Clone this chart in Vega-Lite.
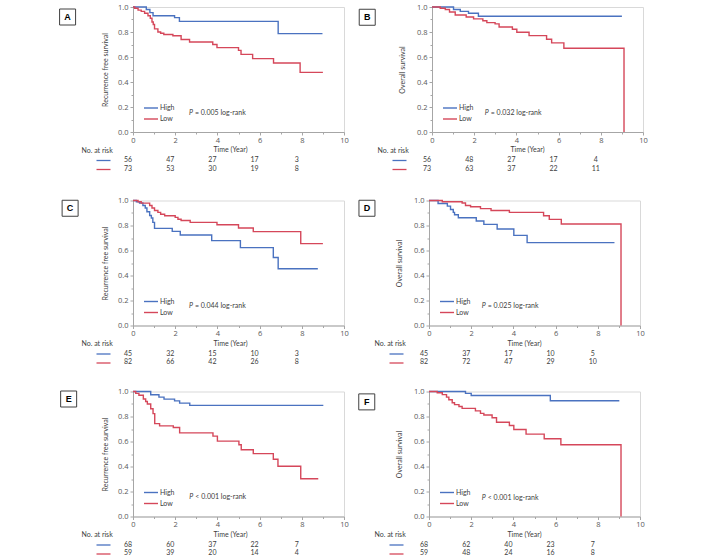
{
"$schema": "https://vega.github.io/schema/vega-lite/v6.json",
"padding": {"left": 57, "top": 2, "right": 5, "bottom": 5},
"background": "white",
"datasets": {
"km": [
{"p":"A","g":"High","t":0,"s":1},{"p":"A","g":"High","t":0.63,"s":0.98},{"p":"A","g":"High","t":0.8,"s":0.955},{"p":"A","g":"High","t":0.95,"s":0.93},{"p":"A","g":"High","t":1.97,"s":0.915},{"p":"A","g":"High","t":2.2,"s":0.885},{"p":"A","g":"High","t":6.88,"s":0.787},{"p":"A","g":"High","t":8.98,"s":0.787},
{"p":"A","g":"Low","t":0,"s":1},{"p":"A","g":"Low","t":0.08,"s":0.99},{"p":"A","g":"Low","t":0.24,"s":0.975},{"p":"A","g":"Low","t":0.39,"s":0.965},{"p":"A","g":"Low","t":0.55,"s":0.95},{"p":"A","g":"Low","t":0.71,"s":0.93},{"p":"A","g":"Low","t":0.82,"s":0.91},{"p":"A","g":"Low","t":0.9,"s":0.88},{"p":"A","g":"Low","t":0.96,"s":0.86},{"p":"A","g":"Low","t":1.02,"s":0.825},{"p":"A","g":"Low","t":1.18,"s":0.8},{"p":"A","g":"Low","t":1.31,"s":0.79},{"p":"A","g":"Low","t":1.46,"s":0.78},{"p":"A","g":"Low","t":1.89,"s":0.77},{"p":"A","g":"Low","t":2.28,"s":0.74},{"p":"A","g":"Low","t":2.68,"s":0.72},{"p":"A","g":"Low","t":3.78,"s":0.7},{"p":"A","g":"Low","t":3.98,"s":0.675},{"p":"A","g":"Low","t":5.0,"s":0.653},{"p":"A","g":"Low","t":5.12,"s":0.621},{"p":"A","g":"Low","t":5.67,"s":0.587},{"p":"A","g":"Low","t":6.66,"s":0.552},{"p":"A","g":"Low","t":7.92,"s":0.477},{"p":"A","g":"Low","t":9.0,"s":0.477},
{"p":"B","g":"High","t":0,"s":1},{"p":"B","g":"High","t":1.02,"s":0.98},{"p":"B","g":"High","t":1.34,"s":0.965},{"p":"B","g":"High","t":1.73,"s":0.95},{"p":"B","g":"High","t":2.2,"s":0.926},{"p":"B","g":"High","t":9.0,"s":0.926},
{"p":"B","g":"Low","t":0,"s":1},{"p":"B","g":"Low","t":0.39,"s":0.99},{"p":"B","g":"Low","t":0.63,"s":0.98},{"p":"B","g":"Low","t":0.83,"s":0.96},{"p":"B","g":"Low","t":1.1,"s":0.936},{"p":"B","g":"Low","t":1.62,"s":0.92},{"p":"B","g":"Low","t":1.97,"s":0.905},{"p":"B","g":"Low","t":2.41,"s":0.89},{"p":"B","g":"Low","t":2.6,"s":0.875},{"p":"B","g":"Low","t":2.99,"s":0.865},{"p":"B","g":"Low","t":3.18,"s":0.84},{"p":"B","g":"Low","t":3.81,"s":0.822},{"p":"B","g":"Low","t":4.02,"s":0.798},{"p":"B","g":"Low","t":4.6,"s":0.771},{"p":"B","g":"Low","t":5.43,"s":0.742},{"p":"B","g":"Low","t":5.67,"s":0.713},{"p":"B","g":"Low","t":6.25,"s":0.67},{"p":"B","g":"Low","t":9.1,"s":0},
{"p":"C","g":"High","t":0,"s":1},{"p":"C","g":"High","t":0.16,"s":0.99},{"p":"C","g":"High","t":0.31,"s":0.98},{"p":"C","g":"High","t":0.47,"s":0.96},{"p":"C","g":"High","t":0.58,"s":0.94},{"p":"C","g":"High","t":0.66,"s":0.91},{"p":"C","g":"High","t":0.79,"s":0.88},{"p":"C","g":"High","t":0.87,"s":0.86},{"p":"C","g":"High","t":0.94,"s":0.825},{"p":"C","g":"High","t":1.02,"s":0.777},{"p":"C","g":"High","t":1.86,"s":0.753},{"p":"C","g":"High","t":2.24,"s":0.724},{"p":"C","g":"High","t":3.73,"s":0.679},{"p":"C","g":"High","t":5.09,"s":0.623},{"p":"C","g":"High","t":6.65,"s":0.544},{"p":"C","g":"High","t":6.88,"s":0.454},{"p":"C","g":"High","t":8.76,"s":0.454},
{"p":"C","g":"Low","t":0,"s":1},{"p":"C","g":"Low","t":0.24,"s":0.99},{"p":"C","g":"Low","t":0.39,"s":0.979},{"p":"C","g":"Low","t":0.79,"s":0.96},{"p":"C","g":"Low","t":0.9,"s":0.94},{"p":"C","g":"Low","t":1.02,"s":0.92},{"p":"C","g":"Low","t":1.18,"s":0.905},{"p":"C","g":"Low","t":1.31,"s":0.89},{"p":"C","g":"Low","t":1.5,"s":0.878},{"p":"C","g":"Low","t":2.0,"s":0.865},{"p":"C","g":"Low","t":2.13,"s":0.85},{"p":"C","g":"Low","t":2.28,"s":0.84},{"p":"C","g":"Low","t":2.71,"s":0.825},{"p":"C","g":"Low","t":3.98,"s":0.806},{"p":"C","g":"Low","t":5.0,"s":0.78},{"p":"C","g":"Low","t":5.7,"s":0.751},{"p":"C","g":"Low","t":7.95,"s":0.655},{"p":"C","g":"Low","t":9.0,"s":0.655},
{"p":"D","g":"High","t":0,"s":1},{"p":"D","g":"High","t":0.43,"s":0.976},{"p":"D","g":"High","t":0.87,"s":0.955},{"p":"D","g":"High","t":1.02,"s":0.928},{"p":"D","g":"High","t":1.15,"s":0.905},{"p":"D","g":"High","t":1.21,"s":0.886},{"p":"D","g":"High","t":1.39,"s":0.862},{"p":"D","g":"High","t":2.24,"s":0.836},{"p":"D","g":"High","t":2.6,"s":0.809},{"p":"D","g":"High","t":3.23,"s":0.772},{"p":"D","g":"High","t":4.02,"s":0.721},{"p":"D","g":"High","t":4.65,"s":0.663},{"p":"D","g":"High","t":8.79,"s":0.663},
{"p":"D","g":"Low","t":0,"s":1},{"p":"D","g":"Low","t":0.63,"s":0.99},{"p":"D","g":"Low","t":1.57,"s":0.98},{"p":"D","g":"Low","t":1.73,"s":0.96},{"p":"D","g":"Low","t":1.97,"s":0.95},{"p":"D","g":"Low","t":2.44,"s":0.935},{"p":"D","g":"Low","t":2.94,"s":0.92},{"p":"D","g":"Low","t":3.81,"s":0.905},{"p":"D","g":"Low","t":5.43,"s":0.878},{"p":"D","g":"Low","t":5.7,"s":0.849},{"p":"D","g":"Low","t":6.27,"s":0.812},{"p":"D","g":"Low","t":9.1,"s":0},
{"p":"E","g":"High","t":0,"s":1},{"p":"E","g":"High","t":0.84,"s":0.974},{"p":"E","g":"High","t":1.23,"s":0.955},{"p":"E","g":"High","t":1.47,"s":0.939},{"p":"E","g":"High","t":1.97,"s":0.925},{"p":"E","g":"High","t":2.21,"s":0.907},{"p":"E","g":"High","t":2.69,"s":0.889},{"p":"E","g":"High","t":9.02,"s":0.889},
{"p":"E","g":"Low","t":0,"s":1},{"p":"E","g":"Low","t":0.13,"s":0.985},{"p":"E","g":"Low","t":0.28,"s":0.97},{"p":"E","g":"Low","t":0.49,"s":0.94},{"p":"E","g":"Low","t":0.6,"s":0.92},{"p":"E","g":"Low","t":0.68,"s":0.9},{"p":"E","g":"Low","t":0.84,"s":0.862},{"p":"E","g":"Low","t":0.95,"s":0.823},{"p":"E","g":"Low","t":1.03,"s":0.743},{"p":"E","g":"Low","t":1.26,"s":0.725},{"p":"E","g":"Low","t":1.91,"s":0.712},{"p":"E","g":"Low","t":2.21,"s":0.669},{"p":"E","g":"Low","t":3.79,"s":0.643},{"p":"E","g":"Low","t":4.0,"s":0.603},{"p":"E","g":"Low","t":5.02,"s":0.574},{"p":"E","g":"Low","t":5.13,"s":0.534},{"p":"E","g":"Low","t":5.7,"s":0.503},{"p":"E","g":"Low","t":6.65,"s":0.458},{"p":"E","g":"Low","t":6.87,"s":0.402},{"p":"E","g":"Low","t":7.95,"s":0.302},{"p":"E","g":"Low","t":8.78,"s":0.302},
{"p":"F","g":"High","t":0,"s":1},{"p":"F","g":"High","t":1.73,"s":0.985},{"p":"F","g":"High","t":2.0,"s":0.968},{"p":"F","g":"High","t":5.75,"s":0.926},{"p":"F","g":"High","t":9.02,"s":0.926},
{"p":"F","g":"Low","t":0,"s":1},{"p":"F","g":"Low","t":0.39,"s":0.99},{"p":"F","g":"Low","t":0.63,"s":0.975},{"p":"F","g":"Low","t":0.83,"s":0.955},{"p":"F","g":"Low","t":0.94,"s":0.934},{"p":"F","g":"Low","t":1.1,"s":0.91},{"p":"F","g":"Low","t":1.21,"s":0.895},{"p":"F","g":"Low","t":1.42,"s":0.88},{"p":"F","g":"Low","t":1.57,"s":0.865},{"p":"F","g":"Low","t":2.2,"s":0.845},{"p":"F","g":"Low","t":2.44,"s":0.825},{"p":"F","g":"Low","t":2.6,"s":0.812},{"p":"F","g":"Low","t":2.99,"s":0.79},{"p":"F","g":"Low","t":3.2,"s":0.754},{"p":"F","g":"Low","t":3.81,"s":0.728},{"p":"F","g":"Low","t":4.02,"s":0.696},{"p":"F","g":"Low","t":4.6,"s":0.659},{"p":"F","g":"Low","t":5.46,"s":0.622},{"p":"F","g":"Low","t":6.25,"s":0.574},{"p":"F","g":"Low","t":9.1,"s":0}
],
"risk": [
{"p":"A","g":"High","t":0,"n":56},{"p":"A","g":"High","t":2,"n":47},{"p":"A","g":"High","t":4,"n":27},{"p":"A","g":"High","t":6,"n":17},{"p":"A","g":"High","t":8,"n":3},
{"p":"A","g":"Low","t":0,"n":73},{"p":"A","g":"Low","t":2,"n":53},{"p":"A","g":"Low","t":4,"n":30},{"p":"A","g":"Low","t":6,"n":19},{"p":"A","g":"Low","t":8,"n":8},
{"p":"B","g":"High","t":0,"n":56},{"p":"B","g":"High","t":2,"n":48},{"p":"B","g":"High","t":4,"n":27},{"p":"B","g":"High","t":6,"n":17},{"p":"B","g":"High","t":8,"n":4},
{"p":"B","g":"Low","t":0,"n":73},{"p":"B","g":"Low","t":2,"n":63},{"p":"B","g":"Low","t":4,"n":37},{"p":"B","g":"Low","t":6,"n":22},{"p":"B","g":"Low","t":8,"n":11},
{"p":"C","g":"High","t":0,"n":45},{"p":"C","g":"High","t":2,"n":32},{"p":"C","g":"High","t":4,"n":15},{"p":"C","g":"High","t":6,"n":10},{"p":"C","g":"High","t":8,"n":3},
{"p":"C","g":"Low","t":0,"n":82},{"p":"C","g":"Low","t":2,"n":66},{"p":"C","g":"Low","t":4,"n":42},{"p":"C","g":"Low","t":6,"n":26},{"p":"C","g":"Low","t":8,"n":8},
{"p":"D","g":"High","t":0,"n":45},{"p":"D","g":"High","t":2,"n":37},{"p":"D","g":"High","t":4,"n":17},{"p":"D","g":"High","t":6,"n":10},{"p":"D","g":"High","t":8,"n":5},
{"p":"D","g":"Low","t":0,"n":82},{"p":"D","g":"Low","t":2,"n":72},{"p":"D","g":"Low","t":4,"n":47},{"p":"D","g":"Low","t":6,"n":29},{"p":"D","g":"Low","t":8,"n":10},
{"p":"E","g":"High","t":0,"n":68},{"p":"E","g":"High","t":2,"n":60},{"p":"E","g":"High","t":4,"n":37},{"p":"E","g":"High","t":6,"n":22},{"p":"E","g":"High","t":8,"n":7},
{"p":"E","g":"Low","t":0,"n":59},{"p":"E","g":"Low","t":2,"n":39},{"p":"E","g":"Low","t":4,"n":20},{"p":"E","g":"Low","t":6,"n":14},{"p":"E","g":"Low","t":8,"n":4},
{"p":"F","g":"High","t":0,"n":68},{"p":"F","g":"High","t":2,"n":62},{"p":"F","g":"High","t":4,"n":40},{"p":"F","g":"High","t":6,"n":23},{"p":"F","g":"High","t":8,"n":7},
{"p":"F","g":"Low","t":0,"n":59},{"p":"F","g":"Low","t":2,"n":48},{"p":"F","g":"Low","t":4,"n":24},{"p":"F","g":"Low","t":6,"n":16},{"p":"F","g":"Low","t":8,"n":8}
],
"pv": [
{"p":"A","txt":"= 0.005 log-rank"},{"p":"B","txt":"= 0.032 log-rank"},{"p":"C","txt":"= 0.044 log-rank"},{"p":"D","txt":"= 0.025 log-rank"},{"p":"E","txt":"< 0.001 log-rank"},{"p":"F","txt":"< 0.001 log-rank"}
]
},
"config": {
"font": "Lato",
"view": {"stroke": "#d9d9d9"},
"axis": {"labelFont": "Open Sans", "labelFontSize": 7.5, "labelColor": "#595959", "domainColor": "#a6a6a6", "tickColor": "#a6a6a6", "titleFont": "Lato", "titleFontSize": 7, "titleFontWeight": "normal", "titleColor": "#404040", "grid": false, "labelOverlap": false},
"legend": {"title": null, "orient": "bottom-left", "offset": 10, "padding": 0, "symbolType": "stroke", "symbolSize": 196, "symbolStrokeWidth": 1.4, "labelFont": "Lato", "labelFontSize": 7, "labelColor": "#404040", "labelOffset": 1, "rowPadding": -3},
"text": {"font": "Lato", "fontSize": 7, "color": "#404040"}
},
"spacing": 22.5,
"resolve": {"scale": {"color": "independent"}, "legend": {"color": "independent"}},
"vconcat": [
{"hconcat": [
  {"vconcat": [
    {"width": 211, "height": 125, "layer": [
      {"data": {"name": "km"}, "transform": [{"filter": "datum.p === 'A'"}], "mark": {"type": "line", "interpolate": "step-after", "strokeWidth": 1.4},
       "encoding": {
        "x": {"field": "t", "type": "quantitative", "scale": {"domain": [0, 10], "nice": false}, "axis": {"values": [0,1,2,3,4,5,6,7,8,9,10], "tickCount": 11, "labelExpr": "datum.value % 2 === 0 ? datum.label : ''", "tickSize": {"condition": {"test": "datum.value % 2 === 0", "value": 3}, "value": 2}, "labelFlush": false, "labelOverlap": false, "labelPadding": 1, "title": "Time (Year)", "titleX": 97, "titlePadding": 2}},
        "y": {"field": "s", "type": "quantitative", "scale": {"domain": [0, 1], "nice": false}, "axis": {"values": [0,0.1,0.2,0.3,0.4,0.5,0.6,0.7,0.8,0.9,1], "tickCount": 11, "labelExpr": "round(datum.value*10) % 2 === 0 ? format(datum.value, '.1f') : ''", "tickSize": {"condition": {"test": "round(datum.value*10) % 2 === 0", "value": 3}, "value": 2}, "labelOverlap": false, "labelPadding": 2, "title": "Recurrence free survival", "titlePadding": 9}},
        "color": {"field": "g", "type": "nominal", "scale": {"domain": ["High", "Low"], "range": ["#4a72c0", "#d5475a"]}}
       }},
      {"data": {"name": "pv"}, "transform": [{"filter": "datum.p === 'A'"}], "mark": {"type": "text", "align": "left", "fontStyle": "italic"}, "encoding": {"x": {"datum": 2.65}, "y": {"datum": 0.155}, "text": {"value": "P"}}},
      {"data": {"name": "pv"}, "transform": [{"filter": "datum.p === 'A'"}], "mark": {"type": "text", "align": "left", "dx": 6}, "encoding": {"x": {"datum": 2.65}, "y": {"datum": 0.155}, "text": {"field": "txt", "type": "nominal"}}},
      {"data": {"name": "pv"}, "transform": [{"filter": "datum.p === 'A'"}], "mark": {"type": "point", "shape": "square", "size": 256, "filled": false, "color": "#404040", "strokeWidth": 1, "opacity": 1}, "encoding": {"x": {"datum": -3.1}, "y": {"datum": 0.92}}},
      {"data": {"name": "pv"}, "transform": [{"filter": "datum.p === 'A'"}], "mark": {"type": "text", "fontWeight": "bold", "fontSize": 9, "font": "Liberation Sans", "color": "#000000"}, "encoding": {"x": {"datum": -3.1}, "y": {"datum": 0.92}, "text": {"field": "p", "type": "nominal"}}}
    ]},
    {"width": 211, "height": 17, "view": {"stroke": null}, "data": {"name": "risk"}, "transform": [{"filter": "datum.p === 'A'"}], "mark": {"type": "text", "dx": -5},
     "encoding": {
      "x": {"field": "t", "type": "quantitative", "scale": {"domain": [0, 10], "nice": false}, "axis": null},
      "y": {"field": "g", "type": "nominal", "scale": {"domain": ["High", "Low"], "paddingInner": 0, "paddingOuter": 0}, "axis": {"labels": false, "domain": false, "tickSize": 14, "tickWidth": 1.3, "tickColor": {"condition": {"test": "datum.value === 'High'", "value": "#4a72c0"}, "value": "#d5475a"}, "offset": 23, "title": "No. at risk", "titleAngle": 0, "titleAlign": "left", "titleBaseline": "middle", "titleX": -29, "titleY": -6}},
      "text": {"field": "n", "type": "quantitative"}
     }}
  ], "spacing": 24, "bounds": "flush", "resolve": {"scale": {"color": "independent"}, "legend": {"color": "independent"}}},
  {"vconcat": [
    {"width": 211, "height": 125, "layer": [
      {"data": {"name": "km"}, "transform": [{"filter": "datum.p === 'B'"}], "mark": {"type": "line", "interpolate": "step-after", "strokeWidth": 1.4},
       "encoding": {
        "x": {"field": "t", "type": "quantitative", "scale": {"domain": [0, 10], "nice": false}, "axis": {"values": [0,1,2,3,4,5,6,7,8,9,10], "tickCount": 11, "labelExpr": "datum.value % 2 === 0 ? datum.label : ''", "tickSize": {"condition": {"test": "datum.value % 2 === 0", "value": 3}, "value": 2}, "labelFlush": false, "labelOverlap": false, "labelPadding": 1, "title": "Time (Year)", "titleX": 95, "titlePadding": 2}},
        "y": {"field": "s", "type": "quantitative", "scale": {"domain": [0, 1], "nice": false}, "axis": {"values": [0,0.1,0.2,0.3,0.4,0.5,0.6,0.7,0.8,0.9,1], "tickCount": 11, "labelExpr": "round(datum.value*10) % 2 === 0 ? format(datum.value, '.1f') : ''", "tickSize": {"condition": {"test": "round(datum.value*10) % 2 === 0", "value": 3}, "value": 2}, "labelOverlap": false, "labelPadding": 2, "title": "Overall survival", "titlePadding": 11}},
        "color": {"field": "g", "type": "nominal", "scale": {"domain": ["High", "Low"], "range": ["#4a72c0", "#d5475a"]}}
       }},
      {"data": {"name": "pv"}, "transform": [{"filter": "datum.p === 'B'"}], "mark": {"type": "text", "align": "left", "fontStyle": "italic"}, "encoding": {"x": {"datum": 2.5}, "y": {"datum": 0.153}, "text": {"value": "P"}}},
      {"data": {"name": "pv"}, "transform": [{"filter": "datum.p === 'B'"}], "mark": {"type": "text", "align": "left", "dx": 6}, "encoding": {"x": {"datum": 2.5}, "y": {"datum": 0.153}, "text": {"field": "txt", "type": "nominal"}}},
      {"data": {"name": "pv"}, "transform": [{"filter": "datum.p === 'B'"}], "mark": {"type": "point", "shape": "square", "size": 256, "filled": false, "color": "#404040", "strokeWidth": 1, "opacity": 1}, "encoding": {"x": {"datum": -3.07}, "y": {"datum": 0.918}}},
      {"data": {"name": "pv"}, "transform": [{"filter": "datum.p === 'B'"}], "mark": {"type": "text", "fontWeight": "bold", "fontSize": 9, "font": "Liberation Sans", "color": "#000000"}, "encoding": {"x": {"datum": -3.07}, "y": {"datum": 0.918}, "text": {"field": "p", "type": "nominal"}}}
    ]},
    {"width": 211, "height": 17, "view": {"stroke": null}, "data": {"name": "risk"}, "transform": [{"filter": "datum.p === 'B'"}], "mark": {"type": "text", "dx": -5},
     "encoding": {
      "x": {"field": "t", "type": "quantitative", "scale": {"domain": [0, 10], "nice": false}, "axis": null},
      "y": {"field": "g", "type": "nominal", "scale": {"domain": ["High", "Low"], "paddingInner": 0, "paddingOuter": 0}, "axis": {"labels": false, "domain": false, "tickSize": 14, "tickWidth": 1.3, "tickColor": {"condition": {"test": "datum.value === 'High'", "value": "#4a72c0"}, "value": "#d5475a"}, "offset": 26, "title": "No. at risk", "titleAngle": 0, "titleAlign": "left", "titleBaseline": "middle", "titleX": -29, "titleY": -6}},
      "text": {"field": "n", "type": "quantitative"}
     }}
  ], "spacing": 24, "bounds": "flush", "resolve": {"scale": {"color": "independent"}, "legend": {"color": "independent"}}}
], "spacing": 7, "resolve": {"scale": {"color": "independent"}, "legend": {"color": "independent"}}},
{"vconcat": [
{"hconcat": [
  {"vconcat": [
    {"width": 211, "height": 125, "layer": [
      {"data": {"name": "km"}, "transform": [{"filter": "datum.p === 'C'"}], "mark": {"type": "line", "interpolate": "step-after", "strokeWidth": 1.4},
       "encoding": {
        "x": {"field": "t", "type": "quantitative", "scale": {"domain": [0, 10], "nice": false}, "axis": {"values": [0,1,2,3,4,5,6,7,8,9,10], "tickCount": 11, "labelExpr": "datum.value % 2 === 0 ? datum.label : ''", "tickSize": {"condition": {"test": "datum.value % 2 === 0", "value": 3}, "value": 2}, "labelFlush": false, "labelOverlap": false, "labelPadding": 1, "title": "Time (Year)", "titleX": 97, "titlePadding": 2}},
        "y": {"field": "s", "type": "quantitative", "scale": {"domain": [0, 1], "nice": false}, "axis": {"values": [0,0.1,0.2,0.3,0.4,0.5,0.6,0.7,0.8,0.9,1], "tickCount": 11, "labelExpr": "round(datum.value*10) % 2 === 0 ? format(datum.value, '.1f') : ''", "tickSize": {"condition": {"test": "round(datum.value*10) % 2 === 0", "value": 3}, "value": 2}, "labelOverlap": false, "labelPadding": 2, "title": "Recurrence free survival", "titlePadding": 9}},
        "color": {"field": "g", "type": "nominal", "scale": {"domain": ["High", "Low"], "range": ["#4a72c0", "#d5475a"]}}
       }},
      {"data": {"name": "pv"}, "transform": [{"filter": "datum.p === 'C'"}], "mark": {"type": "text", "align": "left", "fontStyle": "italic"}, "encoding": {"x": {"datum": 2.65}, "y": {"datum": 0.155}, "text": {"value": "P"}}},
      {"data": {"name": "pv"}, "transform": [{"filter": "datum.p === 'C'"}], "mark": {"type": "text", "align": "left", "dx": 6}, "encoding": {"x": {"datum": 2.65}, "y": {"datum": 0.155}, "text": {"field": "txt", "type": "nominal"}}},
      {"data": {"name": "pv"}, "transform": [{"filter": "datum.p === 'C'"}], "mark": {"type": "point", "shape": "square", "size": 256, "filled": false, "color": "#404040", "strokeWidth": 1, "opacity": 1}, "encoding": {"x": {"datum": -2.98}, "y": {"datum": 0.938}}},
      {"data": {"name": "pv"}, "transform": [{"filter": "datum.p === 'C'"}], "mark": {"type": "text", "fontWeight": "bold", "fontSize": 9, "font": "Liberation Sans", "color": "#000000"}, "encoding": {"x": {"datum": -2.98}, "y": {"datum": 0.938}, "text": {"field": "p", "type": "nominal"}}}
    ]},
    {"width": 211, "height": 17, "view": {"stroke": null}, "data": {"name": "risk"}, "transform": [{"filter": "datum.p === 'C'"}], "mark": {"type": "text", "dx": -5},
     "encoding": {
      "x": {"field": "t", "type": "quantitative", "scale": {"domain": [0, 10], "nice": false}, "axis": null},
      "y": {"field": "g", "type": "nominal", "scale": {"domain": ["High", "Low"], "paddingInner": 0, "paddingOuter": 0}, "axis": {"labels": false, "domain": false, "tickSize": 14, "tickWidth": 1.3, "tickColor": {"condition": {"test": "datum.value === 'High'", "value": "#4a72c0"}, "value": "#d5475a"}, "offset": 23, "title": "No. at risk", "titleAngle": 0, "titleAlign": "left", "titleBaseline": "middle", "titleX": -29, "titleY": -6}},
      "text": {"field": "n", "type": "quantitative"}
     }}
  ], "spacing": 24, "bounds": "flush", "resolve": {"scale": {"color": "independent"}, "legend": {"color": "independent"}}},
  {"vconcat": [
    {"width": 211, "height": 125, "layer": [
      {"data": {"name": "km"}, "transform": [{"filter": "datum.p === 'D'"}], "mark": {"type": "line", "interpolate": "step-after", "strokeWidth": 1.4},
       "encoding": {
        "x": {"field": "t", "type": "quantitative", "scale": {"domain": [0, 10], "nice": false}, "axis": {"values": [0,1,2,3,4,5,6,7,8,9,10], "tickCount": 11, "labelExpr": "datum.value % 2 === 0 ? datum.label : ''", "tickSize": {"condition": {"test": "datum.value % 2 === 0", "value": 3}, "value": 2}, "labelFlush": false, "labelOverlap": false, "labelPadding": 1, "title": "Time (Year)", "titleX": 95, "titlePadding": 2}},
        "y": {"field": "s", "type": "quantitative", "scale": {"domain": [0, 1], "nice": false}, "axis": {"values": [0,0.1,0.2,0.3,0.4,0.5,0.6,0.7,0.8,0.9,1], "tickCount": 11, "labelExpr": "round(datum.value*10) % 2 === 0 ? format(datum.value, '.1f') : ''", "tickSize": {"condition": {"test": "round(datum.value*10) % 2 === 0", "value": 3}, "value": 2}, "labelOverlap": false, "labelPadding": 2, "title": "Overall survival", "titlePadding": 11}},
        "color": {"field": "g", "type": "nominal", "scale": {"domain": ["High", "Low"], "range": ["#4a72c0", "#d5475a"]}}
       }},
      {"data": {"name": "pv"}, "transform": [{"filter": "datum.p === 'D'"}], "mark": {"type": "text", "align": "left", "fontStyle": "italic"}, "encoding": {"x": {"datum": 2.5}, "y": {"datum": 0.153}, "text": {"value": "P"}}},
      {"data": {"name": "pv"}, "transform": [{"filter": "datum.p === 'D'"}], "mark": {"type": "text", "align": "left", "dx": 6}, "encoding": {"x": {"datum": 2.5}, "y": {"datum": 0.153}, "text": {"field": "txt", "type": "nominal"}}},
      {"data": {"name": "pv"}, "transform": [{"filter": "datum.p === 'D'"}], "mark": {"type": "point", "shape": "square", "size": 256, "filled": false, "color": "#404040", "strokeWidth": 1, "opacity": 1}, "encoding": {"x": {"datum": -2.94}, "y": {"datum": 0.938}}},
      {"data": {"name": "pv"}, "transform": [{"filter": "datum.p === 'D'"}], "mark": {"type": "text", "fontWeight": "bold", "fontSize": 9, "font": "Liberation Sans", "color": "#000000"}, "encoding": {"x": {"datum": -2.94}, "y": {"datum": 0.938}, "text": {"field": "p", "type": "nominal"}}}
    ]},
    {"width": 211, "height": 17, "view": {"stroke": null}, "data": {"name": "risk"}, "transform": [{"filter": "datum.p === 'D'"}], "mark": {"type": "text", "dx": -5},
     "encoding": {
      "x": {"field": "t", "type": "quantitative", "scale": {"domain": [0, 10], "nice": false}, "axis": null},
      "y": {"field": "g", "type": "nominal", "scale": {"domain": ["High", "Low"], "paddingInner": 0, "paddingOuter": 0}, "axis": {"labels": false, "domain": false, "tickSize": 14, "tickWidth": 1.3, "tickColor": {"condition": {"test": "datum.value === 'High'", "value": "#4a72c0"}, "value": "#d5475a"}, "offset": 26, "title": "No. at risk", "titleAngle": 0, "titleAlign": "left", "titleBaseline": "middle", "titleX": -29, "titleY": -6}},
      "text": {"field": "n", "type": "quantitative"}
     }}
  ], "spacing": 24, "bounds": "flush", "resolve": {"scale": {"color": "independent"}, "legend": {"color": "independent"}}}
], "spacing": 7, "resolve": {"scale": {"color": "independent"}, "legend": {"color": "independent"}}},
{"hconcat": [
  {"vconcat": [
    {"width": 211, "height": 125, "layer": [
      {"data": {"name": "km"}, "transform": [{"filter": "datum.p === 'E'"}], "mark": {"type": "line", "interpolate": "step-after", "strokeWidth": 1.4},
       "encoding": {
        "x": {"field": "t", "type": "quantitative", "scale": {"domain": [0, 10], "nice": false}, "axis": {"values": [0,1,2,3,4,5,6,7,8,9,10], "tickCount": 11, "labelExpr": "datum.value % 2 === 0 ? datum.label : ''", "tickSize": {"condition": {"test": "datum.value % 2 === 0", "value": 3}, "value": 2}, "labelFlush": false, "labelOverlap": false, "labelPadding": 1, "title": "Time (Year)", "titleX": 97, "titlePadding": 2}},
        "y": {"field": "s", "type": "quantitative", "scale": {"domain": [0, 1], "nice": false}, "axis": {"values": [0,0.1,0.2,0.3,0.4,0.5,0.6,0.7,0.8,0.9,1], "tickCount": 11, "labelExpr": "round(datum.value*10) % 2 === 0 ? format(datum.value, '.1f') : ''", "tickSize": {"condition": {"test": "round(datum.value*10) % 2 === 0", "value": 3}, "value": 2}, "labelOverlap": false, "labelPadding": 2, "title": "Recurrence free survival", "titlePadding": 9}},
        "color": {"field": "g", "type": "nominal", "scale": {"domain": ["High", "Low"], "range": ["#4a72c0", "#d5475a"]}}
       }},
      {"data": {"name": "pv"}, "transform": [{"filter": "datum.p === 'E'"}], "mark": {"type": "text", "align": "left", "fontStyle": "italic"}, "encoding": {"x": {"datum": 2.67}, "y": {"datum": 0.16}, "text": {"value": "P"}}},
      {"data": {"name": "pv"}, "transform": [{"filter": "datum.p === 'E'"}], "mark": {"type": "text", "align": "left", "dx": 6}, "encoding": {"x": {"datum": 2.67}, "y": {"datum": 0.16}, "text": {"field": "txt", "type": "nominal"}}},
      {"data": {"name": "pv"}, "transform": [{"filter": "datum.p === 'E'"}], "mark": {"type": "point", "shape": "square", "size": 256, "filled": false, "color": "#404040", "strokeWidth": 1, "opacity": 1}, "encoding": {"x": {"datum": -3.05}, "y": {"datum": 0.94}}},
      {"data": {"name": "pv"}, "transform": [{"filter": "datum.p === 'E'"}], "mark": {"type": "text", "fontWeight": "bold", "fontSize": 9, "font": "Liberation Sans", "color": "#000000"}, "encoding": {"x": {"datum": -3.05}, "y": {"datum": 0.94}, "text": {"field": "p", "type": "nominal"}}}
    ]},
    {"width": 211, "height": 17, "view": {"stroke": null}, "data": {"name": "risk"}, "transform": [{"filter": "datum.p === 'E'"}], "mark": {"type": "text", "dx": -5},
     "encoding": {
      "x": {"field": "t", "type": "quantitative", "scale": {"domain": [0, 10], "nice": false}, "axis": null},
      "y": {"field": "g", "type": "nominal", "scale": {"domain": ["High", "Low"], "paddingInner": 0, "paddingOuter": 0}, "axis": {"labels": false, "domain": false, "tickSize": 14, "tickWidth": 1.3, "tickColor": {"condition": {"test": "datum.value === 'High'", "value": "#4a72c0"}, "value": "#d5475a"}, "offset": 23, "title": "No. at risk", "titleAngle": 0, "titleAlign": "left", "titleBaseline": "middle", "titleX": -29, "titleY": -6}},
      "text": {"field": "n", "type": "quantitative"}
     }}
  ], "spacing": 24, "bounds": "flush", "resolve": {"scale": {"color": "independent"}, "legend": {"color": "independent"}}},
  {"vconcat": [
    {"width": 211, "height": 125, "layer": [
      {"data": {"name": "km"}, "transform": [{"filter": "datum.p === 'F'"}], "mark": {"type": "line", "interpolate": "step-after", "strokeWidth": 1.4},
       "encoding": {
        "x": {"field": "t", "type": "quantitative", "scale": {"domain": [0, 10], "nice": false}, "axis": {"values": [0,1,2,3,4,5,6,7,8,9,10], "tickCount": 11, "labelExpr": "datum.value % 2 === 0 ? datum.label : ''", "tickSize": {"condition": {"test": "datum.value % 2 === 0", "value": 3}, "value": 2}, "labelFlush": false, "labelOverlap": false, "labelPadding": 1, "title": "Time (Year)", "titleX": 95, "titlePadding": 2}},
        "y": {"field": "s", "type": "quantitative", "scale": {"domain": [0, 1], "nice": false}, "axis": {"values": [0,0.1,0.2,0.3,0.4,0.5,0.6,0.7,0.8,0.9,1], "tickCount": 11, "labelExpr": "round(datum.value*10) % 2 === 0 ? format(datum.value, '.1f') : ''", "tickSize": {"condition": {"test": "round(datum.value*10) % 2 === 0", "value": 3}, "value": 2}, "labelOverlap": false, "labelPadding": 2, "title": "Overall survival", "titlePadding": 11}},
        "color": {"field": "g", "type": "nominal", "scale": {"domain": ["High", "Low"], "range": ["#4a72c0", "#d5475a"]}}
       }},
      {"data": {"name": "pv"}, "transform": [{"filter": "datum.p === 'F'"}], "mark": {"type": "text", "align": "left", "fontStyle": "italic"}, "encoding": {"x": {"datum": 2.5}, "y": {"datum": 0.151}, "text": {"value": "P"}}},
      {"data": {"name": "pv"}, "transform": [{"filter": "datum.p === 'F'"}], "mark": {"type": "text", "align": "left", "dx": 6}, "encoding": {"x": {"datum": 2.5}, "y": {"datum": 0.151}, "text": {"field": "txt", "type": "nominal"}}},
      {"data": {"name": "pv"}, "transform": [{"filter": "datum.p === 'F'"}], "mark": {"type": "point", "shape": "square", "size": 256, "filled": false, "color": "#404040", "strokeWidth": 1, "opacity": 1}, "encoding": {"x": {"datum": -2.95}, "y": {"datum": 0.917}}},
      {"data": {"name": "pv"}, "transform": [{"filter": "datum.p === 'F'"}], "mark": {"type": "text", "fontWeight": "bold", "fontSize": 9, "font": "Liberation Sans", "color": "#000000"}, "encoding": {"x": {"datum": -2.95}, "y": {"datum": 0.917}, "text": {"field": "p", "type": "nominal"}}}
    ]},
    {"width": 211, "height": 17, "view": {"stroke": null}, "data": {"name": "risk"}, "transform": [{"filter": "datum.p === 'F'"}], "mark": {"type": "text", "dx": -5},
     "encoding": {
      "x": {"field": "t", "type": "quantitative", "scale": {"domain": [0, 10], "nice": false}, "axis": null},
      "y": {"field": "g", "type": "nominal", "scale": {"domain": ["High", "Low"], "paddingInner": 0, "paddingOuter": 0}, "axis": {"labels": false, "domain": false, "tickSize": 14, "tickWidth": 1.3, "tickColor": {"condition": {"test": "datum.value === 'High'", "value": "#4a72c0"}, "value": "#d5475a"}, "offset": 26, "title": "No. at risk", "titleAngle": 0, "titleAlign": "left", "titleBaseline": "middle", "titleX": -29, "titleY": -6}},
      "text": {"field": "n", "type": "quantitative"}
     }}
  ], "spacing": 24, "bounds": "flush", "resolve": {"scale": {"color": "independent"}, "legend": {"color": "independent"}}}
], "spacing": 7, "resolve": {"scale": {"color": "independent"}, "legend": {"color": "independent"}}}
], "spacing": 20, "resolve": {"scale": {"color": "independent"}, "legend": {"color": "independent"}}}
]
}
